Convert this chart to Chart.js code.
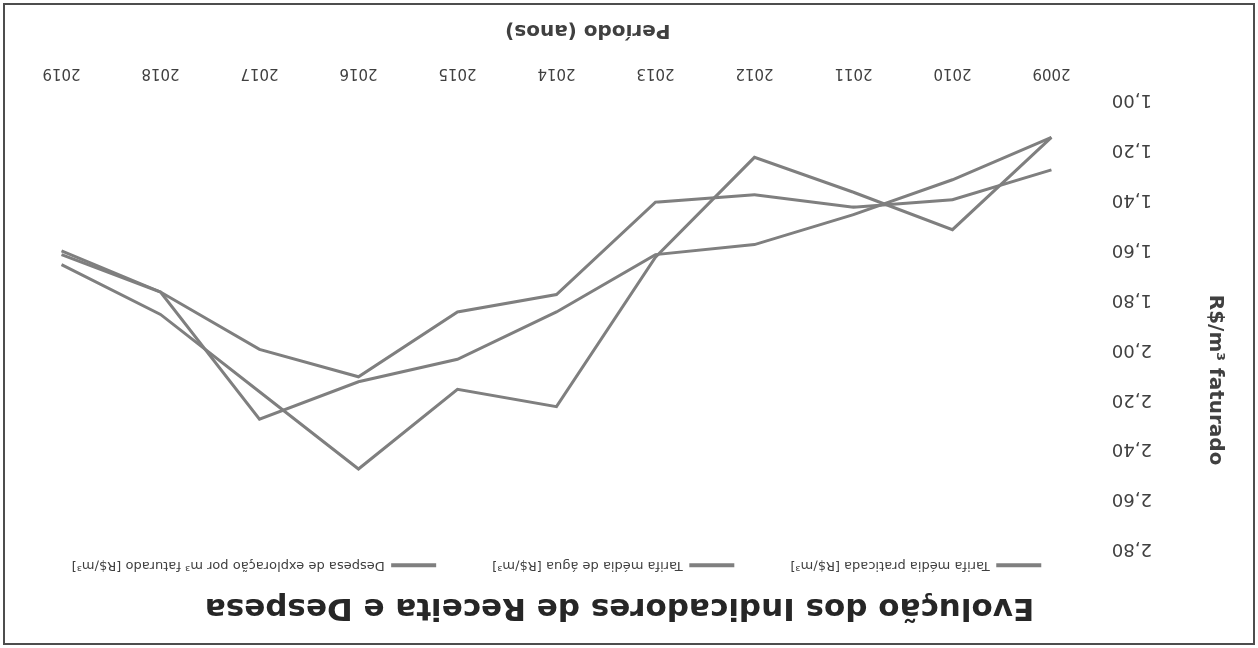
<!DOCTYPE html>
<html>
<head>
<meta charset="utf-8">
<title>Evolução dos Indicadores de Receita e Despesa</title>
<script src="https://cdn.jsdelivr.net/npm/chart.js@4.4.1/dist/chart.umd.min.js"></script>
<style>
  html, body { margin: 0; padding: 0; background: #fff; }
  /* the reference is a scan printed upside down, so the whole frame is turned 180deg */
  #frame {
    position: absolute; left: 3px; top: 3px;
    width: 1252px; height: 642px;
    box-sizing: border-box;
    border: 2px solid #4d4d4d;
    background: #fff;
    transform: rotate(180deg);
  }
  #chart { display: block; }
</style>
</head>
<body>
<div id="frame"><canvas id="chart" width="1248" height="638"></canvas></div>
<script>
const years = ['2009', '2010', '2011', '2012', '2013', '2014', '2015', '2016', '2017', '2018', '2019'];

const tarifaPraticada = [1.28, 1.40, 1.43, 1.38, 1.41, 1.78, 1.85, 2.11, 2.00, 1.77, 1.605];
const tarifaAgua      = [1.15, 1.32, 1.46, 1.58, 1.62, 1.85, 2.04, 2.13, 2.28, 1.77, 1.62];
const despesaExpl     = [1.15, 1.52, 1.37, 1.23, 1.63, 2.23, 2.16, 2.48, 2.17, 1.86, 1.66];

const seriesNames = [
  'Tarifa média praticada [R$/m³]',
  'Tarifa média de água [R$/m³]',
  'Despesa de exploração por m³ faturado [R$/m³]'
];

const GREY = '#7f7f7f';
const TEXT = '#404040';
const FONT = "'DejaVu Sans', 'Liberation Sans', sans-serif";
// axis titles sit a bit off the plot centre in the original, nbsp nudges them
const NUDGE_X = '\u00a0'.repeat(9);
const NUDGE_Y = '\u00a0'.repeat(16);

const line = (label, data) => ({
  label, data,
  borderColor: GREY, backgroundColor: GREY,
  borderWidth: 3, pointRadius: 0, tension: 0, fill: false
});

new Chart(document.getElementById('chart'), {
  type: 'line',
  data: {
    labels: years,
    datasets: [
      line(seriesNames[0], tarifaPraticada),
      line(seriesNames[1], tarifaAgua),
      line(seriesNames[2], despesaExpl)
    ]
  },
  options: {
    responsive: false,
    animation: false,
    layout: { padding: { left: 26, right: 7, top: 0, bottom: 13 } },
    plugins: {
      title: {
        display: true,
        text: 'Evolução dos Indicadores de Receita e Despesa',
        color: '#262626',
        font: { family: FONT, size: 31, weight: 'bold' },
        // negative bottom pulls the legend up, its wide item padding sits above it
        padding: { top: 17, bottom: -39 }
      },
      legend: {
        position: 'top',
        fullSize: false,
        labels: {
          color: TEXT,
          font: { family: FONT, size: 13 },
          boxWidth: 45, boxHeight: 4, padding: 56,
          generateLabels: chart => Chart.defaults.plugins.legend.labels.generateLabels(chart)
            .map(l => ({ ...l, lineWidth: 0 }))
        }
      },
      tooltip: { enabled: false }
    },
    scales: {
      x: {
        offset: true,
        grid: { display: false, drawTicks: false },
        border: { display: false },
        ticks: { color: TEXT, font: { family: FONT, size: 15 }, padding: 18, maxRotation: 0 },
        title: {
          display: true, text: 'Período (anos)' + NUDGE_X, color: TEXT,
          font: { family: FONT, size: 20, weight: 'bold' },
          padding: { top: 4, bottom: 0 }
        }
      },
      y: {
        min: 1, max: 2.8,
        grid: { display: false, drawTicks: false },
        border: { display: false },
        ticks: {
          stepSize: 0.2, color: TEXT, padding: 11,
          font: { family: FONT, size: 18 },
          callback: v => v.toFixed(2).replace('.', ',')
        },
        title: {
          display: true, text: NUDGE_Y + 'R$/m³ faturado', color: TEXT,
          font: { family: FONT, size: 20, weight: 'bold' },
          padding: { top: 0, bottom: 40 }
        }
      }
    }
  }
});
</script>
</body>
</html>
